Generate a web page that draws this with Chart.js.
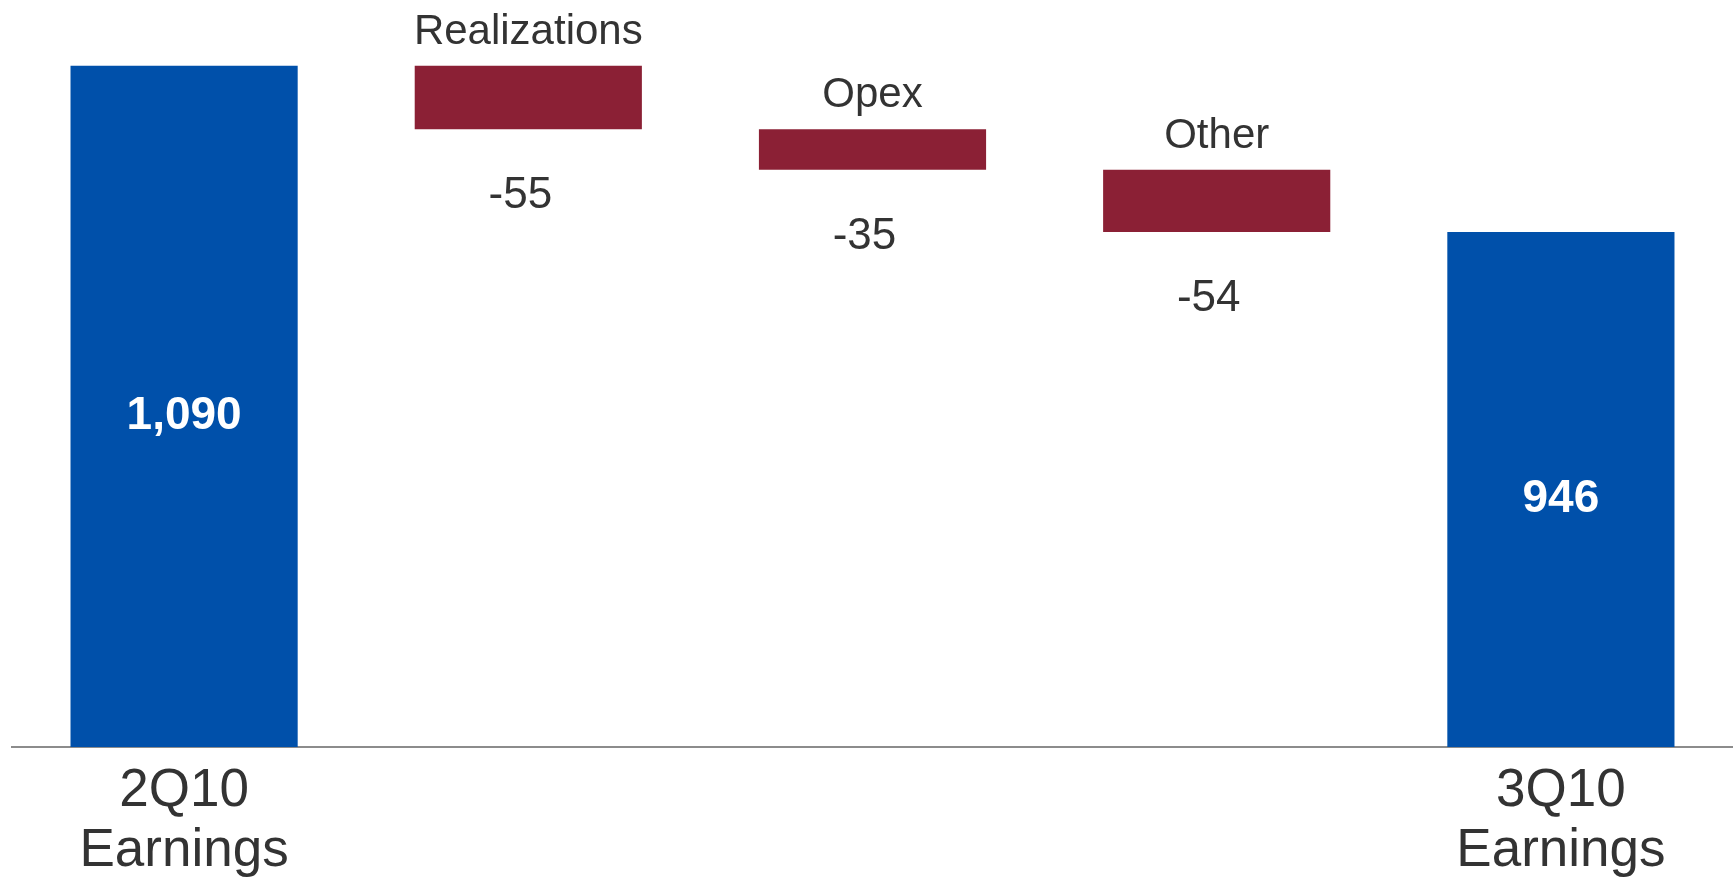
<!DOCTYPE html>
<html><head><meta charset="utf-8">
<script src="https://cdn.jsdelivr.net/npm/chart.js@4.4.0/dist/chart.umd.min.js"></script>
<style>html,body{margin:0;padding:0;background:#fff;overflow:hidden}#wrap{width:1733px;height:877px;position:relative}</style>
</head><body><div id="wrap"><canvas id="c"></canvas></div>
<script>
const categories = ["2Q10 Earnings", "Realizations", "Opex", "Other", "3Q10 Earnings"];
const values = [1090, -55, -35, -54, 946];
const isTotal = [true, false, false, false, true];
const xTickLabels = [["2Q10", "Earnings"], "", "", "", ["3Q10", "Earnings"]];
const axisMin = 500;
const axisMax = 1140;

const FONT = '"Liberation Sans", Arial, Helvetica, sans-serif';
const BLUE = '#0050AA';
const RED = '#8B2035';
const TEXT = '#333333';

let running = 0;
const bars = values.map((v, i) => {
  if (isTotal[i]) { running = v; return [axisMin, v]; }
  const start = running; running = start + v; return [start, running];
});

const labelPlugin = {
  id: 'wfLabels',
  afterDatasetsDraw(chart) {
    const ctx = chart.ctx;
    const meta = chart.getDatasetMeta(0);
    meta.data.forEach((el, i) => {
      const top = Math.min(el.y, el.base), bottom = Math.max(el.y, el.base);
      ctx.save();
      ctx.textAlign = 'center';
      ctx.textBaseline = 'alphabetic';
      if (isTotal[i]) {
        ctx.fillStyle = '#ffffff';
        ctx.font = 'bold 46px ' + FONT;
        ctx.fillText(values[i].toLocaleString('en-US'), el.x, (top + bottom) / 2 + 6 + 16.5);
      } else {
        ctx.fillStyle = TEXT;
        ctx.font = '42px ' + FONT;
        ctx.fillText(categories[i], el.x, top - 22);
        ctx.font = '44px ' + FONT;
        ctx.fillText(String(values[i]), el.x - 8, bottom + 79);
      }
      ctx.restore();
    });
  }
};

new Chart(document.getElementById('c'), {
  type: 'bar',
  data: {
    labels: categories,
    datasets: [{
      data: bars,
      backgroundColor: isTotal.map(t => t ? BLUE : RED),
      borderWidth: 0,
      barPercentage: 0.66,
      categoryPercentage: 1.0
    }]
  },
  options: {
    responsive: true,
    maintainAspectRatio: false,
    animation: false,
    layout: { padding: { left: 12, right: 0, top: 8, bottom: -18 } },
    plugins: { legend: { display: false }, tooltip: { enabled: false } },
    scales: {
      x: {
        grid: { display: false, drawTicks: false },
        border: { display: true, color: '#8c8c8c', width: 2 },
        ticks: {
          padding: 14,
          color: TEXT,
          font: { family: FONT, size: 53, lineHeight: 60 / 53 },
          maxRotation: 0, autoSkip: false,
          callback: (v, i) => xTickLabels[i]
        }
      },
      y: { display: false, min: axisMin, max: axisMax }
    }
  },
  plugins: [labelPlugin]
});
</script></body></html>
